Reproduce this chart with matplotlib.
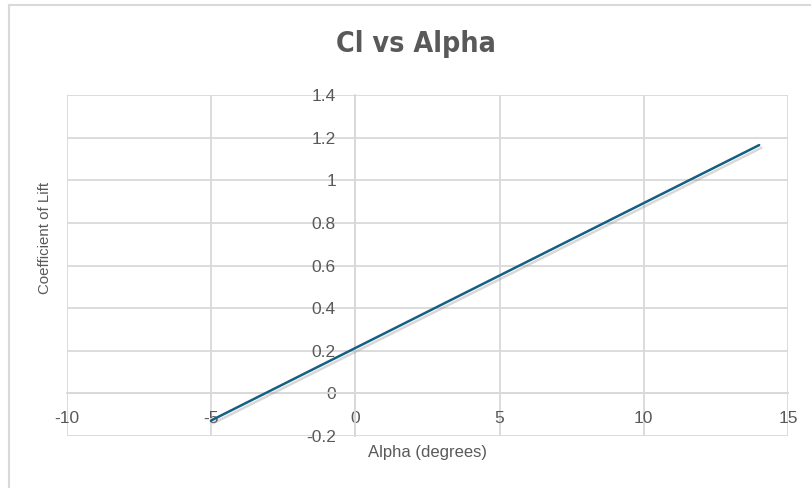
import matplotlib
matplotlib.use("Agg")
import matplotlib.pyplot as plt
import matplotlib.patheffects as pe
from matplotlib.lines import Line2D

# lift curve data
alpha_deg = [-5, -4, -3, -2, -1, 0, 1, 2, 3, 4, 5, 6, 7, 8, 9, 10, 11, 12, 13, 14]
cl = [-0.127, -0.059, 0.009, 0.077, 0.145, 0.213, 0.281, 0.349, 0.417, 0.485,
      0.553, 0.621, 0.689, 0.757, 0.825, 0.893, 0.961, 1.029, 1.097, 1.165]

x_ticks = [-10, -5, 0, 5, 10, 15]
y_ticks = [-0.2, 0, 0.2, 0.4, 0.6, 0.8, 1, 1.2, 1.4]
y_tick_labels = ["-0.2", "0", "0.2", "0.4", "0.6", "0.8", "1", "1.2", "1.4"]

grid_col = "#d9d9d9"
text_col = "#595959"
line_col = "#156082"

plt.rcParams["font.family"] = ["Liberation Sans", "DejaVu Sans"]

W, H = 811, 488
fig = plt.figure(figsize=(W / 100, H / 100), dpi=100)
ax = fig.add_axes([67 / W, (H - 436) / H, (788 - 67) / W, (436 - 95) / H])

ax.plot(alpha_deg, cl, color=line_col, lw=1.8, solid_capstyle="round", zorder=3,
        path_effects=[pe.SimpleLineShadow(offset=(1.5, -2), shadow_color="gray", alpha=0.3),
                      pe.Normal()])

ax.set_xlim(-10, 15)
ax.set_ylim(-0.2, 1.4)
ax.set_xticks(x_ticks)
ax.set_xticklabels([str(v) for v in x_ticks])
ax.set_yticks(y_ticks)
ax.set_yticklabels(y_tick_labels)
ax.grid(True, color=grid_col, lw=1.3)
ax.set_axisbelow(True)

# axes cross at the origin like an Excel scatter chart
for side in ["top", "right"]:
    ax.spines[side].set_visible(False)
ax.spines["left"].set_position(("data", 0))
ax.spines["bottom"].set_position(("data", 0))
ax.spines["left"].set_color(grid_col)
ax.spines["bottom"].set_color(grid_col)
ax.spines["left"].set_linewidth(1.3)
ax.spines["bottom"].set_linewidth(1.3)
ax.tick_params(axis="both", length=0, labelsize=12.5, labelcolor=text_col)
ax.tick_params(axis="y", pad=14)
ax.tick_params(axis="x", pad=13)

fig.text(416 / W, 1 - 44 / H, "Cl vs Alpha", ha="center", va="center",
         fontsize=20.5, fontweight="bold", color=text_col,
         family="DejaVu Sans", fontstretch="condensed")
fig.text(427 / W, 1 - 453 / H, "Alpha (degrees)", ha="center", va="center",
         fontsize=12, color=text_col)
fig.text(45 / W, 1 - 238 / H, "Coefficient of Lift", ha="center", va="center",
         rotation=90, fontsize=10.8, color=text_col)

# chart area border
fig.add_artist(Line2D([9 / W, 9 / W], [0, 1 - 5 / H], color=grid_col, lw=1.5))
fig.add_artist(Line2D([9 / W, 1], [1 - 5 / H, 1 - 5 / H], color=grid_col, lw=1.5))

fig.savefig("out.png", dpi=100, facecolor="white")
